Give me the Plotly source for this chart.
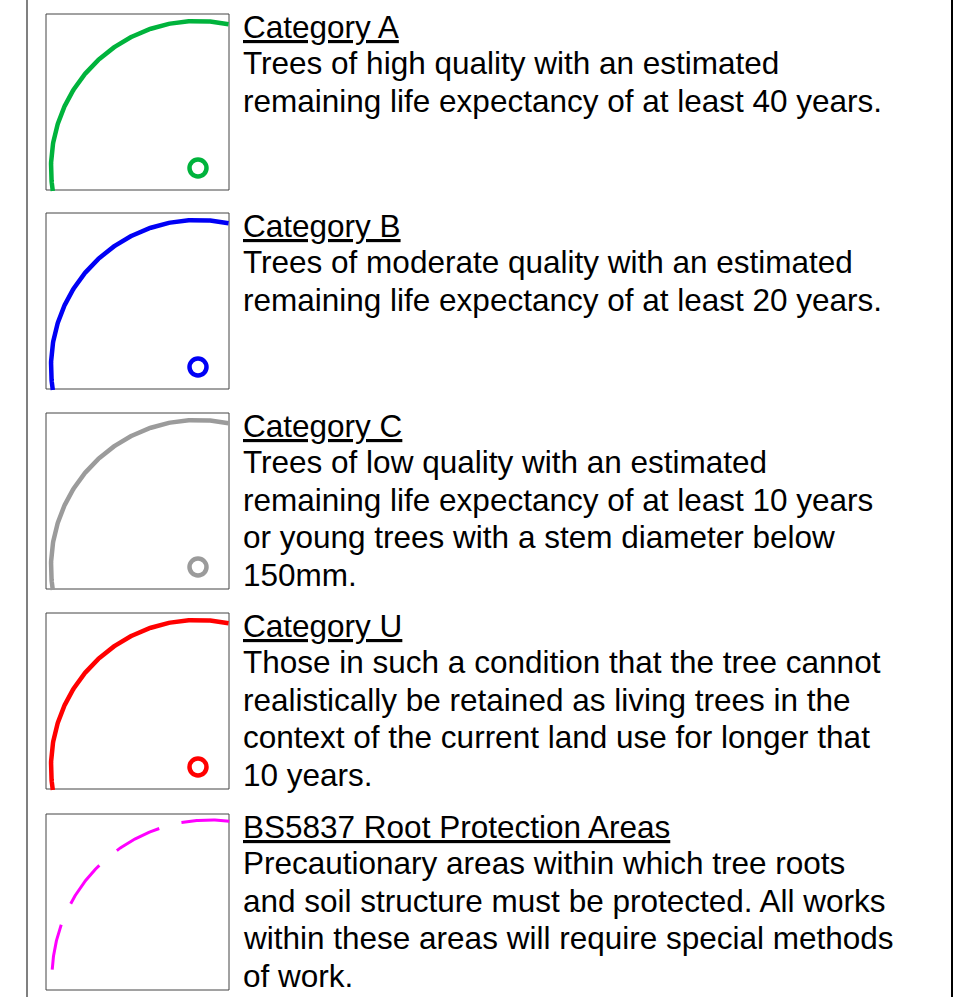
import numpy as np
import plotly.graph_objects as go

# ---- content -------------------------------------------------------------
categories = ["Category A", "Category B", "Category C", "Category U",
              "BS5837 Root Protection Areas"]
descriptions = [
    ["Trees of high quality with an estimated",
     "remaining life expectancy of at least 40 years."],
    ["Trees of moderate quality with an estimated",
     "remaining life expectancy of at least 20 years."],
    ["Trees of low quality with an estimated",
     "remaining life expectancy of at least 10 years",
     "or young trees with a stem diameter below",
     "150mm."],
    ["Those in such a condition that the tree cannot",
     "realistically be retained as living trees in the",
     "context of the current land use for longer that",
     "10 years."],
    ["Precautionary areas within which tree roots",
     "and soil structure must be protected. All works",
     "within these areas will require special methods",
     "of work."],
]
colors = ["#00B33C", "#0000F5", "#9B9B9B", "#FF0000", "#FF00FF"]
dashed = [False, False, False, False, True]
has_tree_marker = [True, True, True, True, False]

# ---- layout geometry (pixels) --------------------------------------------
W, H = 954, 997
block_tops = [14, 213, 413, 613, 814]
box_x, box_w, box_h = 46, 183, 176
text_x = 241
FONT = "Liberation Sans"
FS = 31.5
MID = 0.3465 * FS  # baseline -> middle of text box

fig = go.Figure()
shapes = []
annotations = []

# frame lines
shapes.append(dict(type="line", xref="x", yref="y", x0=27, x1=27, y0=0, y1=H,
                   line=dict(color="#808080", width=2)))
shapes.append(dict(type="line", xref="x", yref="y", x0=952, x1=952, y0=0, y1=H,
                   line=dict(color="#000000", width=2)))

for i, top in enumerate(block_tops):
    # symbol box
    shapes.append(dict(type="rect", xref="x", yref="y",
                       x0=box_x, x1=box_x + box_w, y0=top, y1=top + box_h,
                       line=dict(color="#444444", width=1), fillcolor="rgba(0,0,0,0)",
                       layer="below"))
    # arc (canopy spread symbol)
    if not dashed[i]:
        cx, cy, r, a0, a1, lw = box_x + 152, top + 154, 147, 78, 189, 4.5
    else:
        cx, cy, r, a0, a1, lw = box_x + 164, top + 164, 158, 83, 177, 3
    th = np.radians(np.linspace(a0, a1, 200))
    fig.add_trace(go.Scatter(
        x=cx + r * np.cos(th), y=cy - r * np.sin(th), mode="lines",
        line=dict(color=colors[i], width=lw, dash="48px,23px" if dashed[i] else "solid"),
        hoverinfo="skip", showlegend=False))
    if has_tree_marker[i]:
        fig.add_trace(go.Scatter(
            x=[cx], y=[cy], mode="markers",
            marker=dict(symbol="circle-open", size=17, color=colors[i],
                        line=dict(width=4.5, color=colors[i])),
            hoverinfo="skip", showlegend=False))

    # texts
    title_base = top + 23.5
    annotations.append(dict(x=text_x, y=title_base - MID, xref="x", yref="y",
                            text="<u>" + categories[i] + "</u>", showarrow=False,
                            xanchor="left", yanchor="middle",
                            font=dict(family=FONT, size=FS, color="black")))
    for j, line in enumerate(descriptions[i]):
        base = top + 60 + 37.5 * j
        annotations.append(dict(x=text_x, y=base - MID, xref="x", yref="y",
                                text=line, showarrow=False,
                                xanchor="left", yanchor="middle",
                                font=dict(family=FONT, size=FS, color="black")))

fig.update_layout(
    width=W, height=H, margin=dict(l=0, r=0, t=0, b=0, pad=0),
    paper_bgcolor="white", plot_bgcolor="white",
    xaxis=dict(range=[0, W], visible=False, fixedrange=True),
    yaxis=dict(range=[H, 0], visible=False, fixedrange=True),
    shapes=shapes, annotations=annotations, showlegend=False,
)

fig.write_html("out.html", config={"displayModeBar": False},
               post_script="document.body.style.margin='0';document.body.style.overflow='hidden';")
